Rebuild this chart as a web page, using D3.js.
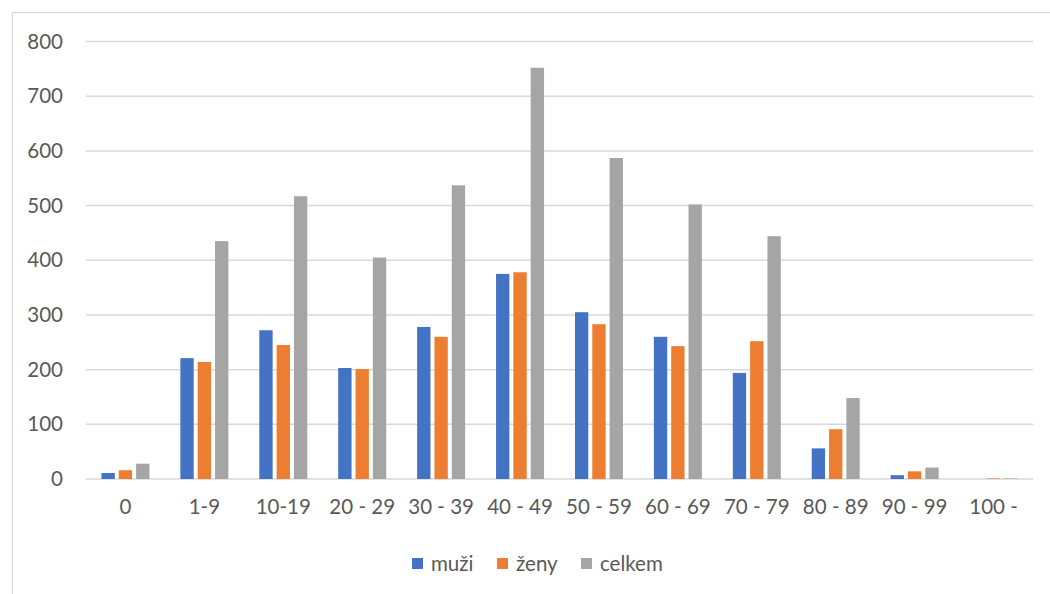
<!DOCTYPE html>
<html>
<head>
<meta charset="utf-8">
<script src="https://cdn.jsdelivr.net/npm/d3@7"></script>
<style>
  body { margin: 0; background: #fff; }
  svg { font-family: Lato, "Open Sans", sans-serif; }
</style>
</head>
<body>
<svg id="chart" width="1050" height="594"></svg>
<script>
// věkové skupiny
const categories = ["0", "1-9", "10-19", "20 - 29", "30 - 39", "40 - 49", "50 - 59", "60 - 69", "70 - 79", "80 - 89", "90 - 99", "100 -"]
const seriesNames = ["muži", "ženy", "celkem"]
const muzi   = [11, 221, 272, 203, 278, 375, 305, 260, 194, 56, 7, 0]
const zeny   = [16, 214, 245, 201, 260, 378, 283, 243, 252, 91, 14, 1]
const celkem = [28, 435, 517, 405, 537, 752, 587, 502, 444, 148, 21, 1]
const yTicks = [0, 100, 200, 300, 400, 500, 600, 700, 800]
const colors = ["#4472c4", "#ed7d31", "#a5a5a5"]

const values = [muzi, zeny, celkem]
const data = categories.map((c, i) => ({cat: c, vals: values.map(v => v[i])}))

const svg = d3.select("#chart")
const LEFT = 86, RIGHT = 1033, TOP = 41.5, BOTTOM = 479
const FONT = "20.5px"

// rámeček grafu
svg.append("rect")
    .attr("x", 12.5).attr("y", 12.5)
    .attr("width", 1100).attr("height", 700)
    .style("fill", "none")
    .style("stroke", "#d9d9d9")
    .style("stroke-width", 1.2)

let x = d3.scaleBand()
    .domain(categories)
    .range([LEFT, RIGHT])
    .padding(0)

let x1 = d3.scaleBand()
    .domain(seriesNames)
    .range([0, 48])
    .paddingInner(0.23)
    .paddingOuter(0)

let y = d3.scaleLinear()
    .domain([0, 800])
    .range([BOTTOM, TOP])

// mřížka
svg.append("g")
    .selectAll("line")
    .data(yTicks)
    .join("line")
    .attr("x1", LEFT).attr("x2", RIGHT)
    .attr("y1", d => y(d)).attr("y2", d => y(d))
    .style("stroke", "#d9d9d9")
    .style("stroke-width", 1.5)

// osa Y
svg.append("g")
    .attr("transform", "translate(" + (LEFT - 23) + ",0)")
    .call(d3.axisLeft(y).tickValues(yTicks).tickSize(0).tickPadding(0))
    .call(g => g.select(".domain").remove())
    .selectAll("text")
    .style("font-family", "Lato, sans-serif")
    .style("font-size", FONT)
    .style("fill", "#595959")

// osa X
svg.append("g")
    .attr("transform", "translate(0," + BOTTOM + ")")
    .call(d3.axisBottom(x).tickSize(0).tickPadding(20))
    .call(g => g.select(".domain").remove())
    .selectAll("text")
    .style("font-family", "Lato, sans-serif")
    .style("font-size", FONT)
    .style("fill", "#595959")

// sloupce
const groups = svg.append("g")
    .selectAll("g")
    .data(data)
    .join("g")
    .attr("transform", d => "translate(" + (x(d.cat) + x.bandwidth() / 2 - 24) + ",0)")

groups.selectAll("rect")
    .data(d => d.vals.map((v, i) => ({name: seriesNames[i], v: v, i: i})))
    .join("rect")
    .attr("x", d => x1(d.name))
    .attr("width", x1.bandwidth())
    .attr("y", d => y(d.v))
    .attr("height", d => BOTTOM - y(d.v))
    .style("fill", d => colors[d.i])

// legenda
const legendX = [412, 497, 581]
const legend = svg.append("g")
    .selectAll("g")
    .data(seriesNames)
    .join("g")
    .attr("transform", (d, i) => "translate(" + legendX[i] + ",558)")
legend.append("rect")
    .attr("width", 11).attr("height", 11)
    .style("fill", (d, i) => colors[i])
legend.append("text")
    .attr("x", 19).attr("y", 6)
    .attr("dy", "0.35em")
    .text(d => d)
    .style("font-size", FONT)
    .style("fill", "#595959")
</script>
</body>
</html>
